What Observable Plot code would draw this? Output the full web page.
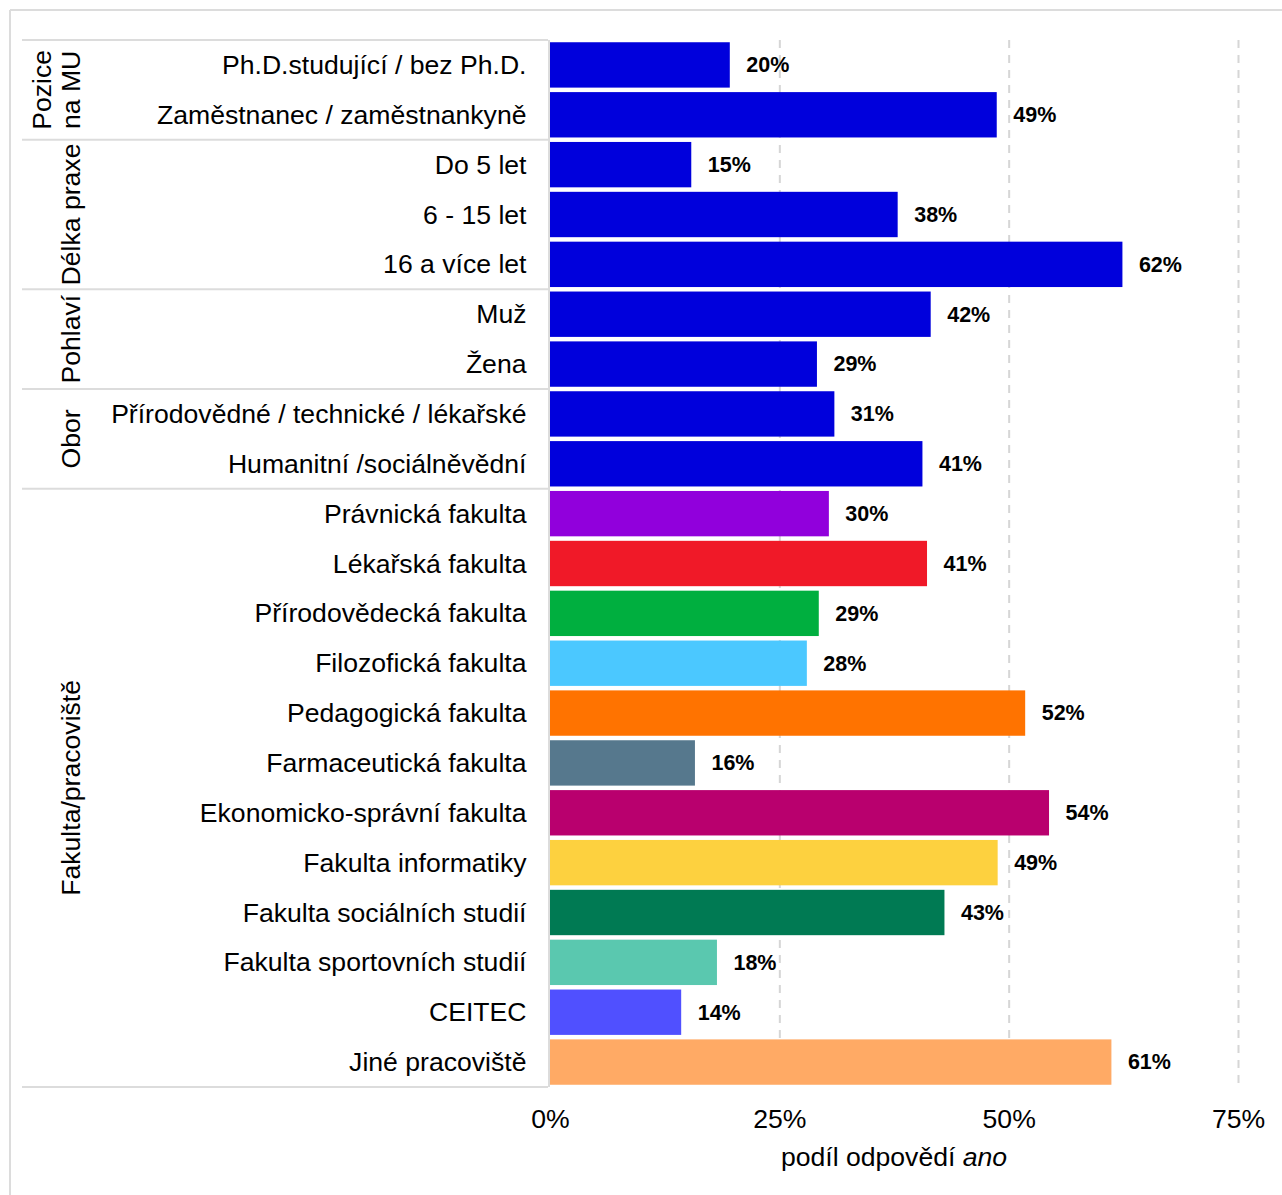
<!DOCTYPE html>
<html>
<head>
<meta charset="utf-8">
<script src="https://cdn.jsdelivr.net/npm/d3@7"></script>
<script src="https://cdn.jsdelivr.net/npm/@observablehq/plot@0.6"></script>
<style>
  html, body { margin: 0; padding: 0; background: #fff; }
  #chart svg { display: block; }
</style>
</head>
<body>
<div id="chart"></div>
<script>
const categories = [
  "Ph.D.studující / bez Ph.D.",
  "Zaměstnanec / zaměstnankyně",
  "Do 5 let",
  "6 - 15 let",
  "16 a více let",
  "Muž",
  "Žena",
  "Přírodovědné / technické / lékařské",
  "Humanitní /sociálněvědní",
  "Právnická fakulta",
  "Lékařská fakulta",
  "Přírodovědecká fakulta",
  "Filozofická fakulta",
  "Pedagogická fakulta",
  "Farmaceutická fakulta",
  "Ekonomicko-správní fakulta",
  "Fakulta informatiky",
  "Fakulta sociálních studií",
  "Fakulta sportovních studií",
  "CEITEC",
  "Jiné pracoviště"
];
const values = [0.196, 0.487, 0.154, 0.379, 0.624, 0.415, 0.291, 0.310, 0.406,
  0.304, 0.411, 0.293, 0.280, 0.518, 0.158, 0.544, 0.488, 0.430, 0.182, 0.143, 0.612];
const valueLabels = ["20%", "49%", "15%", "38%", "62%", "42%", "29%", "31%", "41%",
  "30%", "41%", "29%", "28%", "52%", "16%", "54%", "49%", "43%", "18%", "14%", "61%"];
const colors = ["#0000DC", "#0000DC", "#0000DC", "#0000DC", "#0000DC", "#0000DC", "#0000DC", "#0000DC", "#0000DC",
  "#9100DC", "#F01928", "#00AF3F", "#4BC8FF", "#FF7300", "#56788D", "#B9006E", "#FDD13F",
  "#007A53", "#5AC8AF", "#5050FF", "#FFAA65"];
const groupNames = [["Pozice", "na MU"], ["Délka praxe"], ["Pohlaví"], ["Obor"], ["Fakulta/pracoviště"]];
const groupSizes = [2, 3, 2, 2, 12];
const xTicks = [0, 0.25, 0.5, 0.75];
const gridTicks = [0.25, 0.5, 0.75];

const data = categories.map((c, i) => ({cat: c, value: values[i], label: valueLabels[i], color: colors[i]}));

const FONT = "'Liberation Sans', Arial, sans-serif";
const FS = 26.6;

const plot = Plot.plot({
  width: 1282,
  height: 1195,
  marginLeft: 550,
  marginRight: 44,
  marginTop: 40,
  marginBottom: 108,
  style: {fontFamily: FONT, fontSize: FS + "px", color: "#000", background: "#fff"},
  x: {domain: [0, 0.75], label: null},
  y: {domain: categories, paddingInner: 0.09, paddingOuter: 0.045, round: false, label: null},
  marks: [
    Plot.ruleX(gridTicks, {stroke: "#d6d6d6", strokeWidth: 2, strokeDasharray: "8,7"}),
    Plot.barX(data, {x: "value", y: "cat", fill: "color"}),
    Plot.text(data, {x: "value", y: "cat", text: "label", dx: 16, textAnchor: "start",
      fontWeight: "bold", fontSize: 21.5, fill: "#000"}),
    Plot.axisY({tickSize: 0, tickPadding: 24, fontSize: FS, label: null}),
    Plot.axisX({ticks: xTicks, tickFormat: d3.format(".0%"), tickSize: 0, tickPadding: 22, fontSize: FS, label: null})
  ]
});

document.getElementById("chart").appendChild(plot);

// decorations using the plot's own y scale
const ys = plot.scale("y");
const step = ys.step, bw = ys.bandwidth;
const boundary = i => i < categories.length
  ? ys.apply(categories[i]) - (step - bw) / 2
  : ys.apply(categories[categories.length - 1]) + bw + (step - bw) / 2;

const svg = d3.select(plot);
const deco = svg.append("g").attr("class", "deco");

// outer frame lines
deco.append("line").attr("x1", 10).attr("x2", 1282).attr("y1", 10).attr("y2", 10)
  .attr("stroke", "#dcdcdc").attr("stroke-width", 2);
deco.append("line").attr("x1", 10).attr("x2", 10).attr("y1", 10).attr("y2", 1195)
  .attr("stroke", "#dcdcdc").attr("stroke-width", 2);

// panel right edge
deco.append("line").attr("x1", 549).attr("x2", 549).attr("y1", boundary(0)).attr("y2", boundary(categories.length))
  .attr("stroke", "#dcdcdc").attr("stroke-width", 2);

// group separators and labels
let idx = 0;
const seps = [0];
groupSizes.forEach(n => { idx += n; seps.push(idx); });
seps.forEach(i => {
  const y = boundary(i);
  deco.append("line").attr("x1", 22).attr("x2", 548).attr("y1", y).attr("y2", y)
    .attr("stroke", "#dcdcdc").attr("stroke-width", 2);
});
groupNames.forEach((lines, g) => {
  const yc = (boundary(seps[g]) + boundary(seps[g + 1])) / 2;
  const baseXs = lines.length === 2 ? [51, 80] : [80];
  lines.forEach((t, k) => {
    deco.append("text")
      .attr("transform", `translate(${baseXs[k]},${yc}) rotate(-90)`)
      .attr("text-anchor", "middle")
      .attr("font-family", FONT)
      .attr("font-size", FS)
      .attr("fill", "#000")
      .text(t);
  });
});

// x axis title with italic "ano"
const xs = plot.scale("x");
const xc = (xs.range[0] + xs.range[1]) / 2;
const title = deco.append("text")
  .attr("x", xc).attr("y", 1166)
  .attr("text-anchor", "middle")
  .attr("font-family", FONT)
  .attr("font-size", FS)
  .attr("fill", "#000");
title.append("tspan").text("podíl odpovědí ");
title.append("tspan").attr("font-style", "italic").text("ano");
</script>
</body>
</html>
